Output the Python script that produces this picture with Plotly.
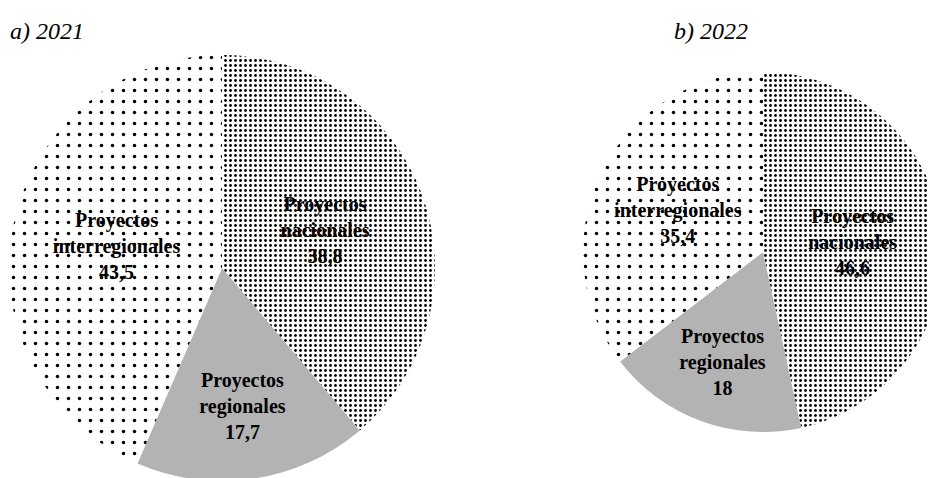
import plotly.graph_objects as go

labels = ["Proyectos<br>nacionales", "Proyectos<br>regionales", "Proyectos<br>interregionales"]
values_2021 = [38.8, 17.7, 43.5]
values_2022 = [46.6, 18.0, 35.4]
titles = ["a) 2021", "b) 2022"]

SERIF = "Liberation Serif, Tinos, Times New Roman, DejaVu Serif, serif"
slice_colors = ["white", "#b3b3b3", "white"]
pattern = dict(shape=[".", "", "."], size=[5, 8, 11], solidity=[0.24, 0.1, 0.08],
               fgcolor="black", fillmode="replace")
txtfont = dict(family=SERIF, size=20, color="black")

fig = go.Figure()
for vals, dom in [(values_2021, dict(x=[0.00107, 0.4562], y=[0.0105, 0.9017])),
                  (values_2022, dict(x=[0.6143, 0.9989], y=[0.105, 0.874]))]:
    fig.add_trace(go.Pie(
        labels=labels, values=vals, sort=False, direction="clockwise", rotation=0,
        marker=dict(colors=slice_colors, pattern=pattern, line=dict(width=0)),
        texttemplate="<b>%{label}<br>%{value}</b>",
        textposition="inside", insidetextorientation="horizontal",
        textfont=txtfont, domain=dom, showlegend=False, hoverinfo="label+value",
    ))

for t, x in zip(titles, [0.0, 0.7094]):
    fig.add_annotation(text=t, x=x, y=0.952, xref="paper", yref="paper",
                       xanchor="left", yanchor="middle", showarrow=False,
                       font=dict(family=SERIF, size=24, style="italic", color="black"))

fig.update_layout(width=936, height=478, margin=dict(l=0, r=0, t=0, b=0),
                  paper_bgcolor="white", plot_bgcolor="white", separators=",.")
fig.write_html("out.html")
